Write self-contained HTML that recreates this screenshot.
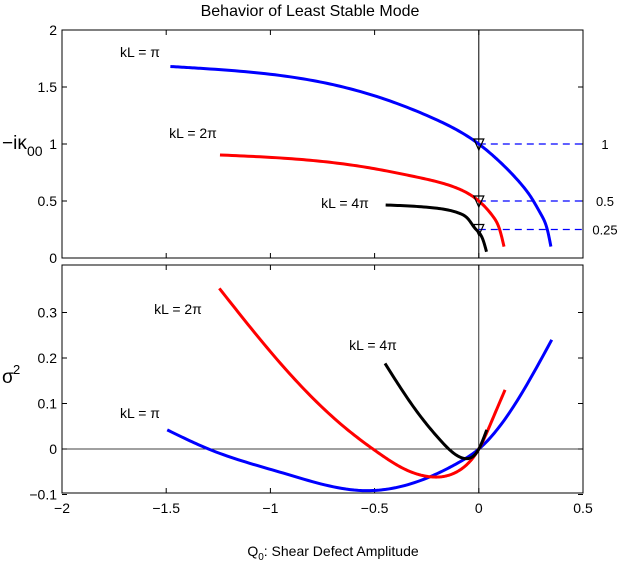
<!DOCTYPE html>
<html><head><meta charset="utf-8"><style>
body{margin:0;background:#fff;font-family:"Liberation Sans",sans-serif}
svg text{font-family:"Liberation Sans",sans-serif;fill:#000}
</style></head><body>
<svg id="c" width="619" height="565" xmlns="http://www.w3.org/2000/svg"></svg>
<script>
const xTicks=[-2,-1.5,-1,-0.5,0,0.5];
const xTickLabels=["\u22122","\u22121.5","\u22121","\u22120.5","0","0.5"];
const topTicks=[0,0.5,1,1.5,2];
const topTickLabels=["0","0.5","1","1.5","2"];
const botTicks=[-0.1,0,0.1,0.2,0.3];
const botTickLabels=["\u22120.1","0","0.1","0.2","0.3"];
const refLevels=[1,0.5,0.25];
const refLabels=["1","0.5","0.25"];
const topBlueX=[-1.48,-1.338,-0.858,-0.538,-0.218,0,0.1,0.2,0.25,0.3,0.33,0.346];
const topBlueY=[1.68,1.664,1.576,1.444,1.225,1.0,0.845,0.655,0.535,0.378,0.24,0.1];
const topRedX=[-1.242,-0.858,-0.538,-0.298,-0.122,0,0.07,0.1,0.121];
const topRedY=[0.904,0.865,0.795,0.71,0.625,0.5,0.36,0.25,0.1];
const topBlackX=[-0.447,-0.218,-0.09,-0.05,-0.018,0.02,0.037];
const topBlackY=[0.465,0.44,0.39,0.34,0.26,0.16,0.055];
const botBlueX=[-1.495,-1.297,-0.938,-0.538,-0.234,-0.09,0,0.166,0.35];
const botBlueY=[0.042,0,-0.053,-0.0916,-0.061,-0.028,0,0.093,0.24];
const botRedX=[-1.245,-0.938,-0.65,-0.474,-0.378,-0.234,-0.09,-0.04,0,0.07,0.126];
const botRedY=[0.353,0.181,0.05,-0.011,-0.039,-0.061,-0.046,-0.026,0,0.07,0.13];
const botBlackX=[-0.45,-0.314,-0.186,-0.066,0,0.038];
const botBlackY=[0.188,0.093,0.02,-0.021,0,0.042];

const svg=document.getElementById('c');
const NS="http://www.w3.org/2000/svg";
const L=62,R=583;
const sx=v=>L+(v+2)/2.5*(R-L);
const topY=v=>258-v*114;
const botY=v=>449-v*455;
function el(t,a,txt){const e=document.createElementNS(NS,t);for(const k in a)e.setAttribute(k,a[k]);if(txt!==undefined)e.textContent=txt;svg.appendChild(e);return e;}
function smooth(xs,ys,fy){const n=xs.length,h=[],M=new Array(n).fill(0);
for(let i=0;i<n-1;i++)h.push(xs[i+1]-xs[i]);
if(n>2){const A=[],B=[],C=[],D=[];
 for(let i=1;i<n-1;i++){A.push(h[i-1]);B.push(2*(h[i-1]+h[i]));C.push(h[i]);D.push(6*((ys[i+1]-ys[i])/h[i]-(ys[i]-ys[i-1])/h[i-1]));}
 const k=B.length;for(let i=1;i<k;i++){const w=A[i]/B[i-1];B[i]-=w*C[i-1];D[i]-=w*D[i-1];}
 const sol=new Array(k);sol[k-1]=D[k-1]/B[k-1];for(let i=k-2;i>=0;i--)sol[i]=(D[i]-C[i]*sol[i+1])/B[i];
 for(let i=0;i<k;i++)M[i+1]=sol[i];}
let pts=[];
for(let i=0;i<n-1;i++){for(let s=0;s<=20;s++){if(i>0&&s===0)continue;const x=xs[i]+h[i]*s/20,t1=xs[i+1]-x,t0=x-xs[i];
 const y=M[i]*t1*t1*t1/(6*h[i])+M[i+1]*t0*t0*t0/(6*h[i])+(ys[i]/h[i]-M[i]*h[i]/6)*t1+(ys[i+1]/h[i]-M[i+1]*h[i]/6)*t0;
 pts.push(sx(x).toFixed(2)+","+fy(y).toFixed(2));}}
return "M"+pts.join(" L");}

let t=el('text',{x:310,y:16,'font-size':16,'text-anchor':'middle'},'Behavior of Least Stable Mode');


function xTickMarks(top,bot){xTicks.forEach(v=>{el('line',{x1:sx(v),x2:sx(v),y1:bot,y2:bot-5,stroke:'#000'});el('line',{x1:sx(v),x2:sx(v),y1:top,y2:top+5,stroke:'#000'});});}

// top panel
let r=el('rect',{x:L,y:30,width:R-L,height:228,fill:'none',stroke:'#000','stroke-width':1});

xTickMarks(30,258);
topTicks.forEach((v,i)=>{el('line',{x1:L,x2:L+5,y1:topY(v),y2:topY(v),stroke:'#000'});el('line',{x1:R,x2:R-5,y1:topY(v),y2:topY(v),stroke:'#000'});
let e=el('text',{x:L-5,y:topY(v)+5,'font-size':14,'text-anchor':'end'},topTickLabels[i]);
});
el('line',{x1:sx(0),x2:sx(0),y1:30,y2:258,stroke:'#000','stroke-width':1});
refLevels.forEach((v,i)=>{let l=el('line',{x1:sx(0),x2:R,y1:topY(v),y2:topY(v),stroke:'#0000ff','stroke-dasharray':'7,5','stroke-width':1.2});

let e=el('text',{x:R+22,y:topY(v)+5,'font-size':13,'text-anchor':'middle'},refLabels[i]);
});
[[topBlueX,topBlueY,'#0000ff'],[topRedX,topRedY,'#ff0000'],[topBlackX,topBlackY,'#000']].forEach(s=>{
let p=el('path',{d:smooth(s[0],s[1],topY),fill:'none',stroke:s[2],'stroke-width':3,'stroke-linejoin':'round'});
});
refLevels.forEach(v=>{const x=sx(0),y=topY(v);
let m=el('path',{d:`M${x-5},${y-5} L${x+5},${y-5} L${x},${y+6} Z`,fill:'none',stroke:'#000','stroke-width':1.2});
});
[['kL = \u03c0',140,57],['kL = 2\u03c0',193,138],['kL = 4\u03c0',345,208]].forEach(a=>{
let e=el('text',{x:a[1],y:a[2],'font-size':14,'text-anchor':'middle'},a[0]);
});
t=el('text',{x:2,y:149,'font-size':19},'\u2212i\u03ba');
el('text',{x:27,y:156,'font-size':14},'00');

// bottom panel
r=el('rect',{x:L,y:265,width:R-L,height:228,fill:'none',stroke:'#000','stroke-width':1});

xTickMarks(265,493);
botTicks.forEach((v,i)=>{el('line',{x1:L,x2:L+5,y1:botY(v),y2:botY(v),stroke:'#000'});el('line',{x1:R,x2:R-5,y1:botY(v),y2:botY(v),stroke:'#000'});
let e=el('text',{x:L-5,y:botY(v)+5,'font-size':14,'text-anchor':'end'},botTickLabels[i]);
});
xTicks.forEach((v,i)=>{
let e=el('text',{x:sx(v),y:513,'font-size':14,'text-anchor':'middle'},xTickLabels[i]);
});
el('line',{x1:L,x2:R,y1:botY(0),y2:botY(0),stroke:'#000','stroke-width':0.8});
el('line',{x1:sx(0),x2:sx(0),y1:265,y2:493,stroke:'#000','stroke-width':0.8});
[[botBlueX,botBlueY,'#0000ff'],[botRedX,botRedY,'#ff0000'],[botBlackX,botBlackY,'#000']].forEach(s=>{
let p=el('path',{d:smooth(s[0],s[1],botY),fill:'none',stroke:s[2],'stroke-width':3,'stroke-linejoin':'round'});
});
[['kL = \u03c0',140,418],['kL = 2\u03c0',178,314],['kL = 4\u03c0',373,350]].forEach(a=>{
let e=el('text',{x:a[1],y:a[2],'font-size':14,'text-anchor':'middle'},a[0]);
});
t=el('text',{x:2,y:383,'font-size':19},'\u03c3');
el('text',{x:13,y:374,'font-size':13},'2');

t=el('text',{x:333,y:556,'font-size':14,'text-anchor':'middle'},'');

t.innerHTML='Q<tspan dy="4" font-size="10">0</tspan><tspan dy="-4">: Shear Defect Amplitude</tspan>';
</script>
</body></html>
